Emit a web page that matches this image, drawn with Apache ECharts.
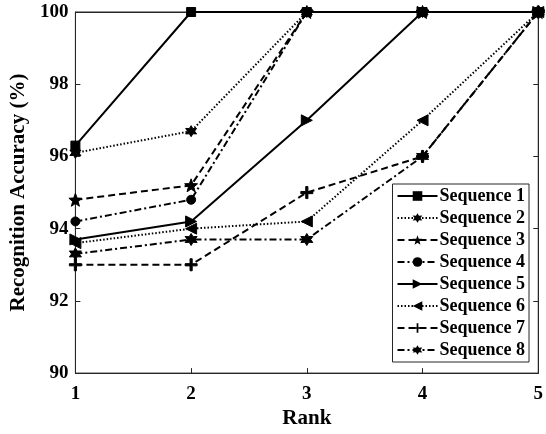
<!DOCTYPE html>
<html>
<head>
<meta charset="utf-8">
<script src="https://cdn.jsdelivr.net/npm/echarts@6/dist/echarts.min.js"></script>
<style>
  html, body { margin: 0; padding: 0; background: #fff; }
  #chart { width: 546px; height: 434px; }
</style>
</head>
<body>
<div id="chart"></div>
<script>
// data
var ranks = [1, 2, 3, 4, 5];
var seq1 = [96.3, 100, 100, 100, 100];
var seq2 = [96.1, 96.7, 100, 100, 100];
var seq3 = [94.8, 95.2, 100, 100, 100];
var seq4 = [94.2, 94.8, 100, 100, 100];
var seq5 = [93.7, 94.2, 97.0, 100, 100];
var seq6 = [93.6, 94.0, 94.2, 97.0, 100];
var seq7 = [93.0, 93.0, 95.0, 96.0, 100];
var seq8 = [93.3, 93.7, 93.7, 96.0, 100];
var names = ['Sequence 1', 'Sequence 2', 'Sequence 3', 'Sequence 4',
             'Sequence 5', 'Sequence 6', 'Sequence 7', 'Sequence 8'];

var font = 'Liberation Serif';

// star shaped marker path (n points)
function starPath(n, inner) {
  var d = '';
  for (var i = 0; i < n * 2; i++) {
    var r = i % 2 === 0 ? 10 : 10 * inner;
    var a = Math.PI * i / n - Math.PI / 2;
    d += (i === 0 ? 'M' : 'L') + (r * Math.cos(a)).toFixed(2) + ',' + (r * Math.sin(a)).toFixed(2);
  }
  return 'path://' + d + 'Z';
}
var plusPath = 'path://M-1.8,-10L1.8,-10L1.8,-1.8L10,-1.8L10,1.8L1.8,1.8L1.8,10L-1.8,10L-1.8,1.8L-10,1.8L-10,-1.8L-1.8,-1.8Z';

var dotted = [1.5, 2];
var dashed = [7, 4];
var dashDot = [7, 3, 2, 3];

function mk(name, vals, lineType, symbol, size, rotate) {
  return {
    name: name,
    type: 'line',
    data: vals.map(function (v, i) { return [ranks[i], v]; }),
    symbol: symbol,
    symbolSize: size,
    symbolRotate: rotate || 0,
    showSymbol: true,
    lineStyle: { color: '#000', width: 2, type: lineType },
    itemStyle: { color: '#000', borderColor: '#000' },
    emphasis: { disabled: true },
    animation: false
  };
}

var series = [
  mk(names[0], seq1, 'solid', 'rect', 9),
  mk(names[1], seq2, dotted, starPath(6, 0.55), 11),
  mk(names[2], seq3, dashed, starPath(5, 0.42), 13),
  mk(names[3], seq4, dashDot, 'circle', 9),
  mk(names[4], seq5, 'solid', 'triangle', 11, -90),
  mk(names[5], seq6, dotted, 'triangle', 11, 90),
  mk(names[6], seq7, dashed, plusPath, 12),
  mk(names[7], seq8, dashDot, starPath(6, 0.55), 12)
];

var chart = echarts.init(document.getElementById('chart'));
chart.setOption({
  backgroundColor: '#fff',
  animation: false,
  grid: {
    left: 75, right: 4, top: 12, bottom: 59,
    show: true, borderColor: '#262626', borderWidth: 1
  },
  legend: {
    data: names,
    orient: 'vertical',
    right: 17,
    bottom: 72,
    padding: [3, 4, 3, 4],
    itemGap: 4,
    itemWidth: 40,
    itemHeight: 12,
    backgroundColor: '#fff',
    borderColor: '#262626',
    borderWidth: 1,
    borderRadius: 0,
    textStyle: { fontFamily: font, fontWeight: 'bold', fontSize: 18, color: '#000', padding: [0, 0, 0, -3] }
  },
  xAxis: [{
    type: 'value', min: 1, max: 5, interval: 1,
    name: 'Rank', nameLocation: 'middle', nameGap: 33,
    nameTextStyle: { fontFamily: font, fontWeight: 'bold', fontSize: 21, color: '#000' },
    axisLine: { show: true, lineStyle: { color: '#262626' } },
    axisTick: { inside: true, length: 5, lineStyle: { color: '#262626' } },
    axisLabel: { fontFamily: font, fontWeight: 'bold', fontSize: 19, color: '#000', margin: 11 },
    splitLine: { show: false }
  }, {
    type: 'value', min: 1, max: 5, interval: 1, position: 'top',
    axisLine: { show: true, lineStyle: { color: '#262626' } },
    axisTick: { inside: true, length: 5, lineStyle: { color: '#262626' } },
    axisLabel: { show: false },
    splitLine: { show: false }
  }],
  yAxis: [{
    type: 'value', min: 90, max: 100, interval: 2,
    name: 'Recognition Accuracy (%)', nameLocation: 'middle', nameGap: 38,
    nameTextStyle: { fontFamily: font, fontWeight: 'bold', fontSize: 21, color: '#000' },
    axisLine: { show: true, lineStyle: { color: '#262626' } },
    axisTick: { inside: true, length: 5, lineStyle: { color: '#262626' } },
    axisLabel: { fontFamily: font, fontWeight: 'bold', fontSize: 19, color: '#000', margin: 7 },
    splitLine: { show: false }
  }, {
    type: 'value', min: 90, max: 100, interval: 2, position: 'right',
    axisLine: { show: true, lineStyle: { color: '#262626' } },
    axisTick: { inside: true, length: 5, lineStyle: { color: '#262626' } },
    axisLabel: { show: false },
    splitLine: { show: false }
  }],
  series: series
});
</script>
</body>
</html>
